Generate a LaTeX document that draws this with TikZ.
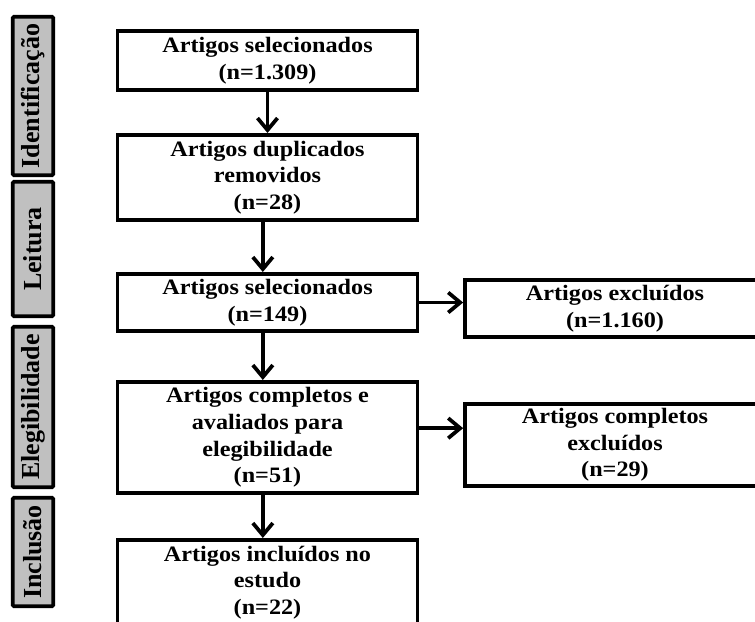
\documentclass[tikz,border=0pt]{standalone}
\usepackage{fontspec}
\setmainfont{Liberation Serif}
\newfontfamily\boxfont[FakeStretch=1.1]{Liberation Serif}
\definecolor{barGray}{HTML}{C0C0C0}
\usetikzlibrary{arrows.meta, positioning}

\begin{document}
\begin{tikzpicture}[x=0.75pt, y=-0.75pt,
      box/.style={draw, line width=2.8pt, minimum width=225pt, inner sep=0pt,
         align=center, font=\fontsize{16.5}{20}\boxfont\bfseries},
      phase/.style={draw, line width=2.8pt, fill=barGray, rotate=90, inner sep=0pt,
         minimum height=30.5pt, rounded corners=1pt, font=\fontsize{19.5}{20}\selectfont\bfseries},
      arr/.style={-{Straight Barb[length=9pt, width=15pt]}, line width=2.8pt}]
   \useasboundingbox (0,0) rectangle (755,621);
   \clip (0,0) rectangle (755,621);
   % Phases (left column)
   \node[phase, minimum width=118.75pt] (ident) at (33,96) {Identificação};
   \node[phase, minimum width=100.75pt] (leit) at (33,249) {Leitura};
   \node[phase, minimum width=120.25pt] (eleg) at (33,407) {Elegibilidade};
   \node[phase, minimum width=81.25pt] (incl) at (33,552) {Inclusão};
   % Main flow
   \node[box, minimum height=44.5pt] (sel) at (267.5,60.5) {Artigos selecionados\\(n=1.309)};
   \node[box, minimum height=64pt] (dup) at (267.5,177.5) {Artigos duplicados\\removidos\\(n=28)};
   \node[box, minimum height=43pt] (selb) at (267.5,302.5) {Artigos selecionados\\(n=149)};
   \node[box, minimum height=83.5pt] (compl) at (267.5,437.5) {Artigos completos e\\avaliados para\\elegibilidade\\(n=51)};
   \node[box, minimum height=64pt] (inc) at (267.5,582.5) {Artigos incluídos no\\estudo\\(n=22)};
   % Excluded (right column)
   \node[box, minimum height=43pt] (exc) at (615,308.5) {Artigos excluídos\\(n=1.160)};
   \node[box, minimum height=61.75pt] (excc) at (615,445) {Artigos completos\\excluídos\\(n=29)};
   % Arrows
   \draw[arr] (sel.south) -- (dup.north);
   \draw[arr] ([xshift=-3.5pt]dup.south) -- ([xshift=-3.5pt]selb.north);
   \draw[arr] ([xshift=-3.5pt]selb.south) -- ([xshift=-3.5pt]compl.north);
   \draw[arr] ([xshift=-3.5pt]compl.south) -- ([xshift=-3.5pt]inc.north);
   \draw[arr] (selb.east) -- (selb.east -| exc.west);
   \draw[arr] ([yshift=7pt]compl.east) -- ([yshift=7pt]compl.east -| excc.west);
\end{tikzpicture}
\end{document}
